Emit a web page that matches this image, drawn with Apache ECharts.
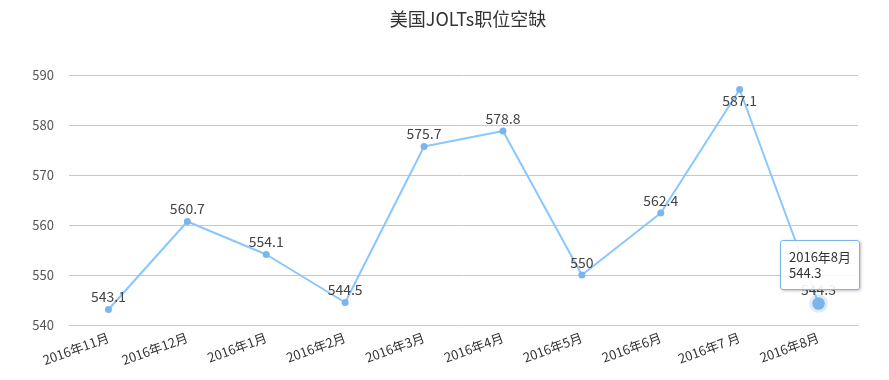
<!DOCTYPE html>
<html><head><meta charset="utf-8">
<script src="https://cdn.jsdelivr.net/npm/echarts@6/dist/echarts.min.js"></script>
<style>html,body{margin:0;padding:0;background:#fff}#c{width:889px;height:380px}</style>
</head><body><div id="c"></div>
<script>
const categories = ['2016年11月','2016年12月','2016年1月','2016年2月','2016年3月','2016年4月','2016年5月','2016年6月','2016年7 月','2016年8月'];
const values = [543.1, 560.7, 554.1, 544.5, 575.7, 578.8, 550, 562.4, 587.1, 544.3];
const yTicks = {min: 540, max: 590, interval: 10};
const titleText = '美国JOLTs职位空缺';
const tooltipIndex = 9;
const labelBelowIndex = 8;

const font = '"Noto Sans CJK SC", "Noto Sans", sans-serif';
const chart = echarts.init(document.getElementById('c'));
const seriesData = values.map((v, i) => i === labelBelowIndex ? {value: v, label: {position: 'bottom', distance: 1}} : v);
chart.setOption({
  animation: false,
  textStyle: {fontFamily: font},
  title: {text: titleText, left: 463, textAlign: 'center', top: 5, textStyle: {fontSize: 18, fontWeight: 'normal', color: '#333', fontFamily: font}},
  grid: {left: 69, right: 31, top: 75, bottom: 55},
  tooltip: {
    trigger: 'item',
    backgroundColor: 'rgba(255,255,255,0.9)',
    borderColor: '#7cb5ec',
    borderWidth: 1,
    padding: [8, 8],
    textStyle: {color: '#333', fontSize: 13, lineHeight: 16, fontFamily: font},
    extraCssText: 'box-shadow:1px 1px 3px rgba(0,0,0,0.25);border-radius:3px;line-height:16px;',
    formatter: p => p.name + '<br/>' + p.value,
    position: (pt) => [pt[0] - 39, pt[1] - 64]
  },
  xAxis: {
    type: 'category', data: categories, boundaryGap: true,
    axisLine: {lineStyle: {color: '#c0d0e0'}},
    axisTick: {lineStyle: {color: '#c0d0e0'}, length: 8},
    axisLabel: {rotate: 20, color: '#333', fontSize: 13, margin: 12, fontFamily: font}
  },
  yAxis: {
    type: 'value', min: yTicks.min, max: yTicks.max, interval: yTicks.interval,
    axisLine: {show: false}, axisTick: {show: false},
    splitLine: {lineStyle: {color: '#c8c8c8'}},
    axisLabel: {color: '#555', fontSize: 13, margin: 15, fontFamily: font}
  },
  series: [{
    type: 'line', data: seriesData,
    symbol: 'circle', symbolSize: 7,
    lineStyle: {color: '#7cb5ec', width: 2},
    itemStyle: {color: '#7cb5ec'},
    label: {show: true, position: 'top', color: '#444', fontSize: 14, fontFamily: font, distance: 2},
    emphasis: {scale: 1.8, label: {show: true, distance: -2}, itemStyle: {color: '#7cb5ec', borderColor: 'rgba(124,181,236,0.25)', borderWidth: 6}}
  }]
});
setTimeout(() => {
  chart.dispatchAction({type: 'highlight', seriesIndex: 0, dataIndex: tooltipIndex});
  chart.dispatchAction({type: 'showTip', seriesIndex: 0, dataIndex: tooltipIndex});
}, 50);
</script></body></html>
